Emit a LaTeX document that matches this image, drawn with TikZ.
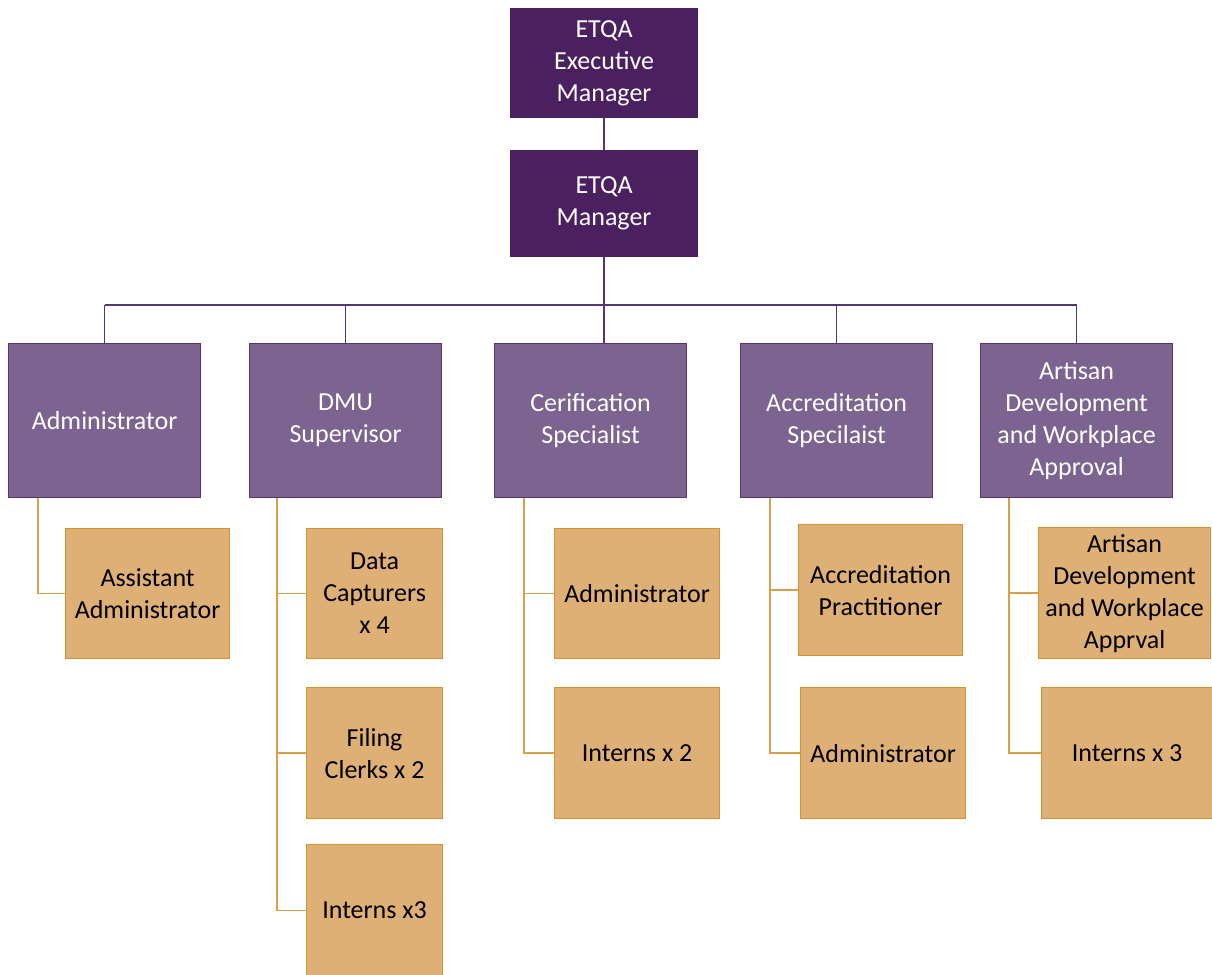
\documentclass[tikz,border=0pt]{standalone}
\usepackage{fontspec}
\setmainfont{Carlito}

\definecolor{topfill}{HTML}{4A2060}
\definecolor{midfill}{HTML}{7D6490}
\definecolor{midline}{HTML}{5A3472}
\definecolor{subfill}{HTML}{DFB075}
\definecolor{subline}{HTML}{D6922F}
\definecolor{subconn}{HTML}{DB9F4C}

\tikzset{
  box/.style={draw, line width=1.2pt, inner sep=0pt, align=center,
              font=\fontsize{26}{32}\selectfont, anchor=north west},
  boxsize/.style 2 args={minimum width=#1pt, minimum height=#2pt},
  topbox/.style={box, fill=topfill, draw=topfill, text=white},
  midbox/.style={box, fill=midfill, draw=midline, text=white},
  subbox/.style={box, fill=subfill, draw=subline, text=black},
  purpleconn/.style={draw=midline, line width=1.3pt},
  busline/.style={draw=midline, line width=2pt},
  orangeconn/.style={draw=subconn, line width=1.5pt},
}

\begin{document}
\begin{tikzpicture}[x=1pt, y=-1pt]
  \useasboundingbox (0,0) rectangle (1212,974);
  \clip (0,0) rectangle (1212,974);

  % management
  \node[topbox, boxsize={187}{109}] (exec) at (510,8) {ETQA\\Executive\\Manager};
  \node[topbox, boxsize={187}{106}] (mgr) at (510,150) {ETQA\\Manager};

  % units
  \node[midbox, boxsize={192}{154}] (adm)  at (8,343)   {Administrator};
  \node[midbox, boxsize={192}{154}] (dmu)  at (249,343) {DMU\\Supervisor};
  \node[midbox, boxsize={192}{154}] (cert) at (494,343) {Cerification\\Specialist};
  \node[midbox, boxsize={192}{154}] (accr) at (740,343) {Accreditation\\Specilaist};
  \node[midbox, boxsize={192}{154}] (art)  at (980,343) {Artisan\\Development\\and Workplace\\Approval};

  % staff
  \node[subbox, boxsize={164}{130}] (asst)   at (65,528)   {Assistant\\Administrator};
  \node[subbox, boxsize={136}{130}] (data)   at (306,528)  {Data\\Capturers\\x 4};
  \node[subbox, boxsize={136}{131}] (filing) at (306,687)  {Filing\\Clerks x 2};
  \node[subbox, boxsize={136}{132}] (dint)   at (306,844)  {Interns x3};
  \node[subbox, boxsize={165}{130}] (cadm)   at (554,528)  {Administrator};
  \node[subbox, boxsize={165}{131}] (cint)   at (554,687)  {Interns x 2};
  \node[subbox, boxsize={164}{131}] (aprac)  at (798,524)  {Accreditation\\Practitioner};
  \node[subbox, boxsize={165}{131}] (aadm)   at (800,687)  {Administrator};
  \node[subbox, boxsize={172}{131}] (aad)    at (1038,527) {Artisan\\Development\\and Workplace\\Apprval};
  \node[subbox, boxsize={171}{131}] (aint)   at (1041,687) {Interns x 3};

  % management links
  \draw[purpleconn] (exec.south) -- (mgr.north);
  \coordinate (busL) at (adm.north |- 0,305);
  \coordinate (busR) at (art.north |- 0,305);
  \draw[busline] (busL) -- (busR);
  \draw[purpleconn] (mgr.south) -- (mgr.south |- cert.north);
  \draw[purpleconn] (busL) -- (adm.north);
  \draw[purpleconn] (dmu.north |- busL) -- (dmu.north);
  \draw[purpleconn] (accr.north |- busL) -- (accr.north);
  \draw[purpleconn] (busR) -- (art.north);

  % staff links
  \coordinate (admt)  at ([xshift=30pt]adm.south west);
  \coordinate (dmut)  at ([xshift=28pt]dmu.south west);
  \coordinate (certt) at ([xshift=30pt]cert.south west);
  \coordinate (accrt) at ([xshift=30pt]accr.south west);
  \coordinate (artt)  at ([xshift=29pt]art.south west);

  \draw[orangeconn] (admt) |- (asst.west);

  \draw[orangeconn] (dmut) |- (dint.west);
  \draw[orangeconn] (dmut |- data.west) -- (data.west);
  \draw[orangeconn] (dmut |- filing.west) -- (filing.west);

  \draw[orangeconn] (certt) |- (cint.west);
  \draw[orangeconn] (certt |- cadm.west) -- (cadm.west);

  \draw[orangeconn] (accrt) |- (aadm.west);
  \draw[orangeconn] (accrt |- aprac.west) -- (aprac.west);

  \draw[orangeconn] (artt) |- (aint.west);
  \draw[orangeconn] (artt |- aad.west) -- (aad.west);
\end{tikzpicture}
\end{document}
